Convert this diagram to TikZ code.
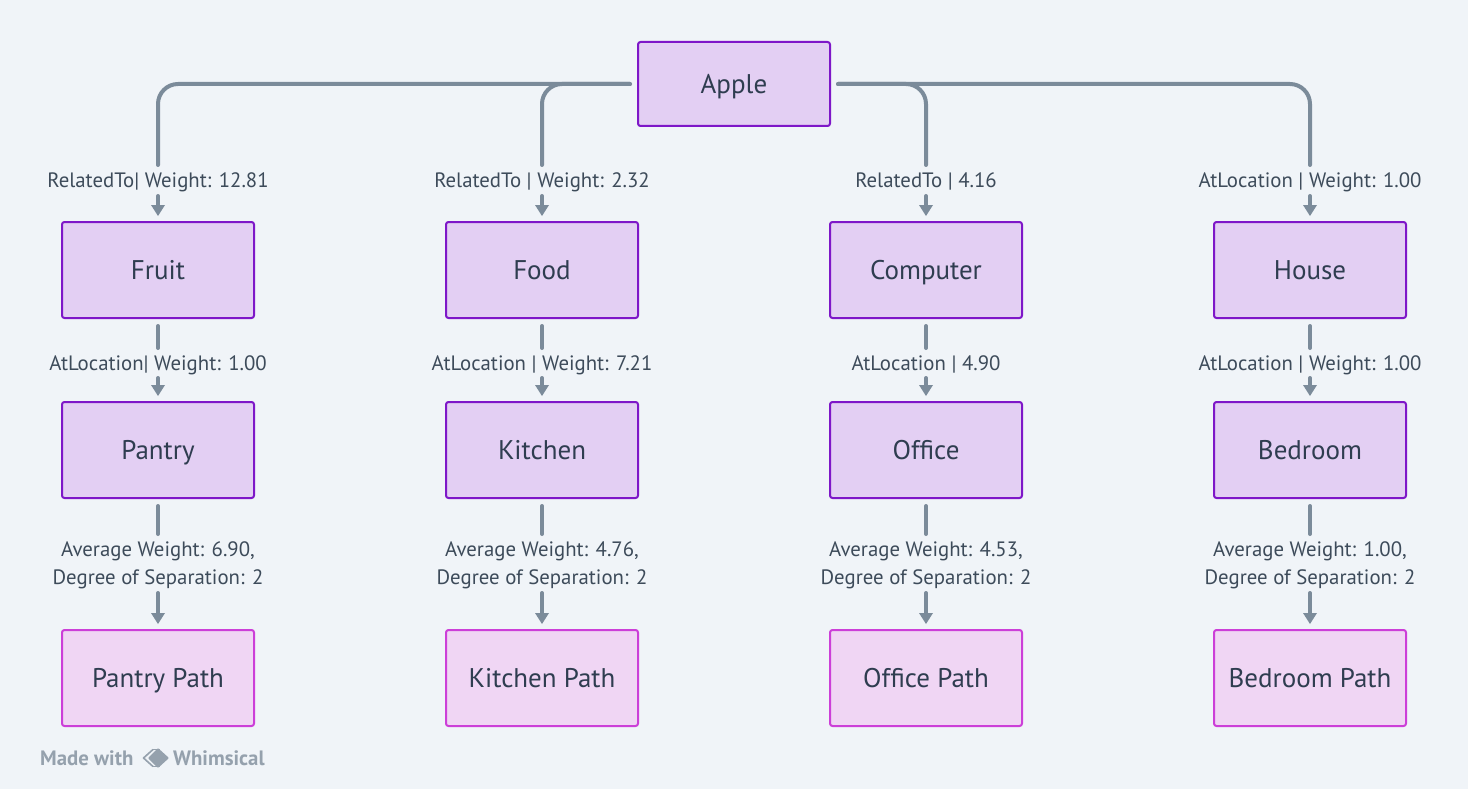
\documentclass[tikz,border=0pt]{standalone}
\usepackage{fontspec}
\setmainfont{PT Sans}
\usetikzlibrary{arrows.meta,calc}
\definecolor{bgc}{HTML}{F0F4F8}
\definecolor{boxfill}{HTML}{E3CFF3}
\definecolor{boxline}{HTML}{7E17C8}
\definecolor{pathfill}{HTML}{F0D6F4}
\definecolor{pathline}{HTML}{CC3FD8}
\definecolor{conn}{HTML}{7B8B9A}
\definecolor{txt}{HTML}{2F3D50}
\definecolor{labc}{HTML}{3D4B5A}
\definecolor{logoc}{HTML}{95A1AD}
\tikzset{
  x=1pt,y=-1pt,
  boxbase/.style={rounded corners=2.5pt,line width=2pt,minimum width=192pt,inner sep=0pt,text=txt,font=\fontsize{27}{32}\selectfont,outer sep=8pt,text height=23pt,text depth=4pt},
  concept/.style={boxbase,draw=boxline,fill=boxfill,minimum height=96pt},
  pathbox/.style={boxbase,draw=pathline,fill=pathfill,minimum height=96pt},
  labelbase/.style={align=center,inner sep=0pt,outer sep=0pt,text=labc,font=\fontsize{20.8}{28}\selectfont},
  edgelabel/.style={labelbase,text height=18pt,text depth=3pt},
  twolabel/.style={labelbase},
  wire/.style={draw=conn,line width=4pt,line cap=round},
  elbow/.style={wire,rounded corners=20pt},
  tipwire/.style={wire,shorten >=-2pt,-{Triangle[length=11pt,width=14pt,line width=0pt]}},
  footer/.style={anchor=west,inner sep=0pt,text=logoc,font=\fontsize{20.8}{24}\selectfont\bfseries}
}
\begin{document}
\begin{tikzpicture}
\useasboundingbox[fill=bgc] (0,0) rectangle (1468,789);
\node[concept,minimum height=84pt] (apple) at (734,84) {Apple};
\foreach \n/\x/\a/\b/\c in {1/158/Fruit/Pantry/Pantry Path,2/542/Food/Kitchen/Kitchen Path,3/926/Computer/Office/Office Path,4/1310/House/Bedroom/Bedroom Path}{
  \node[concept] (t\n) at (\x,270) {\a};
  \node[concept] (m\n) at (\x,450) {\b};
  \node[pathbox] (p\n) at (\x,678) {\c};
}
% labels
\foreach \n/\x/\t in {1/158/RelatedTo| Weight: 12.81,2/542/RelatedTo | Weight: 2.32,3/926/RelatedTo | 4.16,4/1310/AtLocation | Weight: 1.00}{
  \node[edgelabel,minimum height=31pt] (la\n) at (\x,180.5) {\t};
}
\foreach \n/\x/\t in {1/158/AtLocation| Weight: 1.00,2/542/AtLocation | Weight: 7.21,3/926/AtLocation | 4.90,4/1310/AtLocation | Weight: 1.00}{
  \node[edgelabel,minimum height=30pt] (lb\n) at (\x,363) {\t};
}
\foreach \n/\x/\t in {1/158/6.90,2/542/4.76,3/926/4.53,4/1310/1.00}{
  \node[twolabel,minimum height=62pt] (lc\n) at (\x,565) {Average Weight: \t,\\Degree of Separation: 2};
}
% connectors
\path[elbow] (apple.west) -| (la1.north);
\path[elbow] (apple.west) -| (la2.north);
\path[elbow] (apple.east) -| (la3.north);
\path[elbow] (apple.east) -| (la4.north);
\foreach \n in {1,2,3,4}{
  \path[tipwire] (la\n.south) -- (t\n.north);
  \path[wire] (t\n.south) -- (lb\n.north);
  \path[tipwire] (lb\n.south) -- (m\n.north);
  \path[wire] (m\n.south) -- (lc\n.north);
  \path[tipwire,shorten <=-3pt] (lc\n.south) -- (p\n.north);
}
% footer
\node[footer] (made) at (40,758) {Made with};
\node[footer] (whim) at (173,758) {Whimsical};
\draw[logoc,line width=1.6pt,line join=round] (153,749.5) -- (143.5,758) -- (153,766.5);
\draw[logoc,line width=1.6pt] (153,749.5) -- (160,749.5) (153,766.5) -- (160,766.5);
\fill[logoc,rounded corners=1pt] (158,748) -- (169,758) -- (158,768) -- (148,758) -- cycle;
\end{tikzpicture}
\end{document}
